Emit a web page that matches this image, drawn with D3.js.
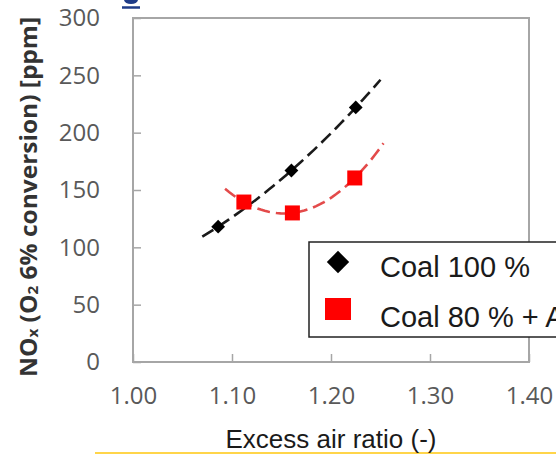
<!DOCTYPE html>
<html>
<head>
<meta charset="utf-8">
<script src="https://cdn.jsdelivr.net/npm/d3@7"></script>
<style>
  html, body { margin: 0; padding: 0; background: #fff; overflow: hidden; }
  svg { display: block; }
</style>
</head>
<body>
<svg id="chart" width="556" height="455"></svg>
<script>
// values
const xTicks = [1.00, 1.10, 1.20, 1.30, 1.40];
const yTicks = [0, 50, 100, 150, 200, 250, 300];
const seriesNames = ["Coal 100 %", "Coal 80 % + A"];
const coalX = [1.086, 1.160, 1.225];
const coalY = [118, 167, 222];
const mixX = [1.112, 1.161, 1.224];
const mixY = [139.5, 130, 160.5];
// extent of the polynomial (order 2) trendlines
const coalTrendRange = [1.070, 1.250];
const mixTrendRange = [1.093, 1.253];

const buildChart = (svg_name) => {
    let chart = d3.select(svg_name);
    let margin = { left: 133, right: 27, top: 18, bottom: 93 };
    let width = +chart.attr("width");
    let height = +chart.attr("height");

    let x = d3.scaleLinear()
        .domain([1.0, 1.4])
        .range([margin.left, width - margin.right]);
    let y = d3.scaleLinear()
        .domain([0, 300])
        .range([height - margin.bottom, margin.top]);

    // cropped title fragment (bottom of a "g") and yellow rule from the source page
    chart.append("path")
        .attr("d", "M124,0 Q125,4 131,4 Q137,4 138,0 Z")
        .attr("fill", "#1f3c88");
    chart.append("line")
        .attr("x1", 122).attr("x2", 140).attr("y1", 7.5).attr("y2", 7.5)
        .attr("stroke", "#1f3c88").attr("stroke-width", 2.5);
    chart.append("line")
        .attr("x1", 95).attr("x2", width).attr("y1", 453).attr("y2", 453)
        .attr("stroke", "#ffd54a").attr("stroke-width", 2);

    // axes, ticks point inwards
    let y_axis = d3.axisLeft(y).tickValues(yTicks).tickSize(-8).tickPadding(33)
        .tickFormat(d3.format("d"));
    let x_axis = d3.axisBottom(x).tickValues(xTicks).tickSize(-8).tickPadding(25)
        .tickFormat(d3.format(".2f"));

    let gy = chart.append("g").attr("transform", "translate(" + margin.left + ",0)").call(y_axis);
    let gx = chart.append("g").attr("transform", "translate(0," + (height - margin.bottom) + ")").call(x_axis);
    [gx, gy].forEach((g) => {
        g.select(".domain").remove();
        g.selectAll(".tick line").attr("stroke", "#a6a6a6").attr("stroke-width", 1.5);
        g.selectAll(".tick text")
            .attr("fill", "#595959")
            .style("font-family", "'Open Sans', sans-serif")
            .style("font-size", "24px");
    });

    // plot frame
    chart.append("rect")
        .attr("x", x(1.0)).attr("y", y(300))
        .attr("width", x(1.4) - x(1.0)).attr("height", y(0) - y(300))
        .attr("fill", "none").attr("stroke", "#a6a6a6").attr("stroke-width", 2);

    // quadratic trendline through the three points of a series
    const quadFit = (xs, ys) => {
        let f01 = (ys[1] - ys[0]) / (xs[1] - xs[0]);
        let f12 = (ys[2] - ys[1]) / (xs[2] - xs[1]);
        let f012 = (f12 - f01) / (xs[2] - xs[0]);
        return (t) => ys[0] + f01 * (t - xs[0]) + f012 * (t - xs[0]) * (t - xs[1]);
    };
    const trend = (xs, ys, range, color) => {
        let f = quadFit(xs, ys);
        let pts = d3.range(0, 41).map((i) => {
            let t = range[0] + (range[1] - range[0]) * i / 40;
            return [t, f(t)];
        });
        chart.append("path")
            .datum(pts)
            .attr("fill", "none")
            .attr("stroke", color)
            .attr("stroke-width", 2.6)
            .attr("stroke-dasharray", "13,6")
            .attr("d", d3.line().x((d) => x(d[0])).y((d) => y(d[1])));
    };
    trend(coalX, coalY, coalTrendRange, "#1a1a1a");
    trend(mixX, mixY, mixTrendRange, "#e34a4a");

    // markers
    let diamond = d3.symbol().type(d3.symbolSquare).size(95);
    chart.append("g").selectAll("path")
        .data(d3.zip(coalX, coalY))
        .enter().append("path")
        .attr("d", diamond)
        .attr("transform", (d) => "translate(" + x(d[0]) + "," + y(d[1]) + ") rotate(45)")
        .attr("fill", "#000");
    chart.append("g").selectAll("rect")
        .data(d3.zip(mixX, mixY))
        .enter().append("rect")
        .attr("x", (d) => x(d[0]) - 7.5)
        .attr("y", (d) => y(d[1]) - 7.5)
        .attr("width", 15).attr("height", 15)
        .attr("fill", "#f00");

    // legend
    let legend = chart.append("g").attr("transform", "translate(309,242)");
    legend.append("rect")
        .attr("x", 0).attr("y", 0).attr("width", 300).attr("height", 95)
        .attr("fill", "#fff").attr("stroke", "#222").attr("stroke-width", 1.5);
    legend.append("path")
        .attr("d", d3.symbol().type(d3.symbolSquare).size(250))
        .attr("transform", "translate(29,20) rotate(45)")
        .attr("fill", "#000");
    legend.append("rect")
        .attr("x", 16).attr("y", 56).attr("width", 26).attr("height", 22)
        .attr("fill", "#f00");
    legend.selectAll("text")
        .data(seriesNames)
        .enter().append("text")
        .attr("x", 71)
        .attr("y", (d, i) => 35 + i * 50)
        .style("font-family", "'Liberation Sans', Arial, sans-serif")
        .style("font-size", "29px")
        .attr("fill", "#1a1a1a")
        .text((d) => d);

    // axis titles
    chart.append("text")
        .attr("x", (x(1.0) + x(1.4)) / 2)
        .attr("y", 448)
        .attr("text-anchor", "middle")
        .style("font-family", "'Liberation Sans', Arial, sans-serif")
        .style("font-size", "26px")
        .attr("fill", "#1a1a1a")
        .text("Excess air ratio (-)");

    let yt = chart.append("text")
        .attr("transform", "translate(27,197) rotate(-90)")
        .attr("text-anchor", "middle")
        .attr("dominant-baseline", "central")
        .attr("textLength", 360)
        .attr("lengthAdjust", "spacingAndGlyphs")
        .style("font-family", "'Open Sans', sans-serif")
        .style("font-weight", "bold")
        .style("font-size", "24px")
        .attr("fill", "#333");
    yt.append("tspan").text("NO");
    yt.append("tspan").attr("dy", 5).style("font-size", "15px").text("x");
    yt.append("tspan").attr("dy", -5).text(" (O");
    yt.append("tspan").attr("dy", 5).style("font-size", "15px").text("2");
    yt.append("tspan").attr("dy", -5).text(" 6% conversion) [ppm]");
}

buildChart("#chart");
</script>
</body>
</html>
